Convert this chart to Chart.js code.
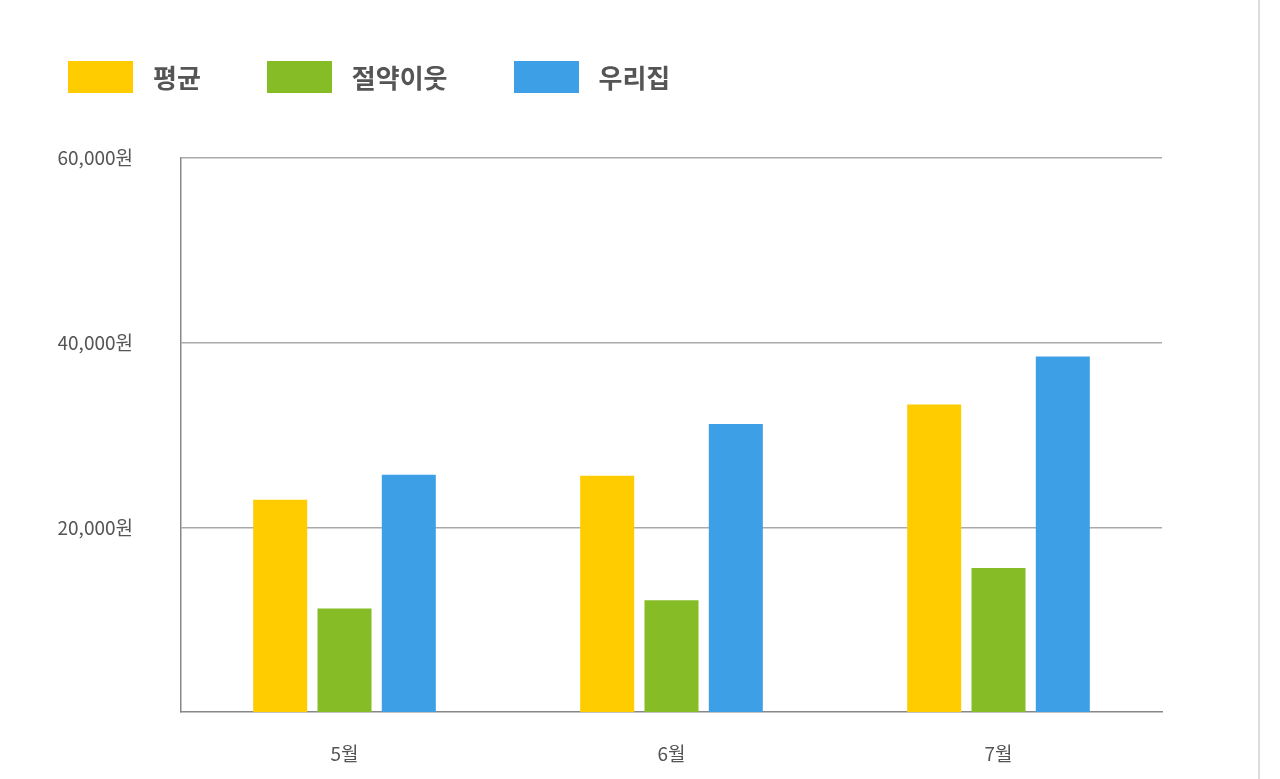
<!DOCTYPE html>
<html><head><meta charset="utf-8">
<script src="https://cdn.jsdelivr.net/npm/chart.js@4"></script>
<style>html,body{margin:0;padding:0;background:#fff;overflow:hidden;font-family:'Noto Sans CJK KR','Noto Sans',sans-serif}
#w{position:absolute;left:0;top:0;width:1280px;height:779px}
#bar{position:absolute;left:1258px;top:0;width:2px;height:779px;background:#ddd}
#lg{position:absolute;left:68px;top:58px;display:flex;gap:66px}
.it{display:flex;align-items:center;gap:20px;font-size:26px;font-weight:bold;color:#555}
.bx{width:65px;height:32px}</style>
</head><body><div id="w"><canvas id="c"></canvas></div><div id="bar"></div><div id="lg"></div>
<script>
const categories=['5월','6월','7월'];
const seriesNames=['평균','절약이웃','우리집'];
const avgValues=[23000,25600,33300];
const neighborValues=[11200,12100,15600];
const homeValues=[25700,31200,38500];
const yTicks=[20000,40000,60000];
const colors=['#FFCC00','#86BC25','#3DA0E6'];
const font="'Noto Sans CJK KR','Noto Sans',sans-serif";
document.getElementById('lg').innerHTML=seriesNames.map((n,i)=>`<div class="it"><div class="bx" style="background:${colors[i]}"></div><span>${n}</span></div>`).join('');
new Chart(document.getElementById('c'),{
type:'bar',
data:{labels:categories,datasets:[avgValues,neighborValues,homeValues].map((d,i)=>({label:seriesNames[i],data:d,backgroundColor:colors[i],barPercentage:0.84,categoryPercentage:0.59}))},
options:{responsive:true,maintainAspectRatio:false,animation:false,
layout:{padding:{left:58,right:118,top:158,bottom:0}},
plugins:{tooltip:{enabled:false},legend:{display:false}},
scales:{
x:{grid:{display:false},border:{color:'#888',width:1.5},ticks:{color:'#555',padding:22,font:{family:font,size:19}},afterFit(s){s.height=67;}},
y:{min:0,max:60000,afterBuildTicks(s){s.ticks=yTicks.map(v=>({value:v}));},
afterFit(s){s.width=123;},
grid:{color:'#aaa',lineWidth:1.5,tickLength:0,drawTicks:false},
border:{color:'#888',width:1.5},
ticks:{color:'#555',padding:48,font:{family:font,size:19},callback:v=>v.toLocaleString('en-US')+'원'}}
}}
});
</script></body></html>
